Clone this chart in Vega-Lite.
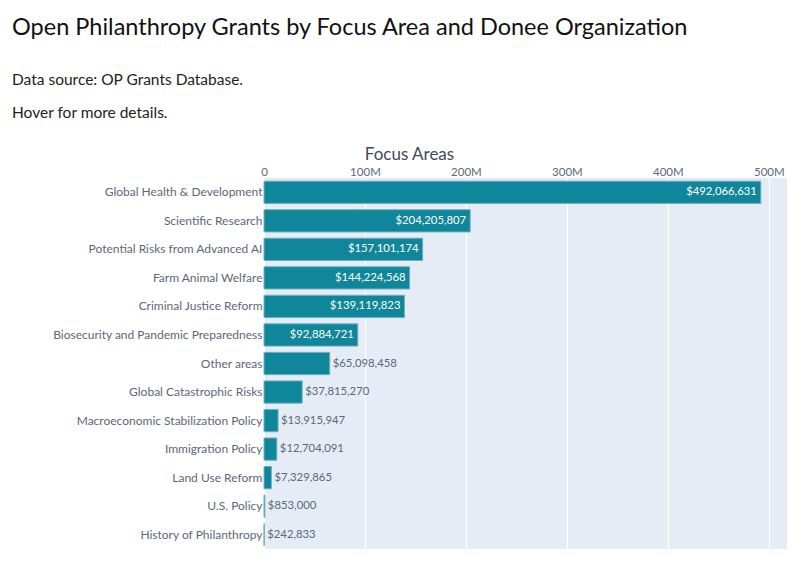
{
  "$schema": "https://vega.github.io/schema/vega-lite/v6.json",
  "autosize": {"type": "none"},
  "padding": {"left": 264, "top": 178, "right": 22, "bottom": 12},
  "width": 523,
  "height": 371,
  "background": "white",
  "title": {
    "text": "Open Philanthropy Grants by Focus Area and Donee Organization",
    "subtitle": ["Data source: OP Grants Database.", "Hover for more details."],
    "anchor": "start",
    "frame": "group",
    "dx": -252,
    "offset": 24,
    "font": "Lato",
    "fontSize": 23.5,
    "fontWeight": "normal",
    "color": "#111111",
    "subtitleFont": "Lato",
    "subtitleFontSize": 15.5,
    "subtitleColor": "#222222",
    "subtitleLineHeight": 33,
    "subtitlePadding": 33
  },
  "config": {
    "view": {"fill": "#e5ecf6", "stroke": null},
    "font": "Lato"
  },
  "data": {
    "values": [
      {"area": "Global Health & Development", "amount": 492066631},
      {"area": "Scientific Research", "amount": 204205807},
      {"area": "Potential Risks from Advanced AI", "amount": 157101174},
      {"area": "Farm Animal Welfare", "amount": 144224568},
      {"area": "Criminal Justice Reform", "amount": 139119823},
      {"area": "Biosecurity and Pandemic Preparedness", "amount": 92884721},
      {"area": "Other areas", "amount": 65098458},
      {"area": "Global Catastrophic Risks", "amount": 37815270},
      {"area": "Macroeconomic Stabilization Policy", "amount": 13915947},
      {"area": "Immigration Policy", "amount": 12704091},
      {"area": "Land Use Reform", "amount": 7329865},
      {"area": "U.S. Policy", "amount": 853000},
      {"area": "History of Philanthropy", "amount": 242833}
    ]
  },
  "encoding": {
    "y": {
      "field": "area",
      "type": "nominal",
      "sort": ["Global Health & Development", "Scientific Research", "Potential Risks from Advanced AI", "Farm Animal Welfare", "Criminal Justice Reform", "Biosecurity and Pandemic Preparedness", "Other areas", "Global Catastrophic Risks", "Macroeconomic Stabilization Policy", "Immigration Policy", "Land Use Reform", "U.S. Policy", "History of Philanthropy"],
      "scale": {"paddingInner": 0.22, "paddingOuter": 0.11},
      "axis": {
        "title": null,
        "domain": false,
        "ticks": false,
        "labelPadding": 2,
        "labelFont": "Lato",
        "labelFontSize": 12,
        "labelColor": "#5b6878",
        "labelLimit": 300
      }
    },
    "x": {
      "field": "amount",
      "type": "quantitative",
      "scale": {"domain": [0, 518000000], "nice": false},
      "axis": {
        "orient": "top",
        "values": [0, 100000000, 200000000, 300000000, 400000000, 500000000],
        "labelExpr": "datum.value === 0 ? '0' : (datum.value / 1000000) + 'M'",
        "title": "Focus Areas",
        "titleFont": "Lato",
        "titleFontSize": 17,
        "titleFontWeight": "normal",
        "titleColor": "#3d4a5a",
        "titleAnchor": "start",
        "titleAlign": "center",
        "titleX": 145,
        "titlePadding": 3,
        "domain": false,
        "ticks": false,
        "labelPadding": 1,
        "labelFont": "Lato",
        "labelFontSize": 11.5,
        "labelColor": "#5b6878",
        "labelFlush": false,
        "grid": true,
        "gridColor": "white",
        "gridWidth": 1.2
      }
    }
  },
  "layer": [
    {
      "mark": {"type": "bar", "color": "#10869a", "stroke": "#6fb0c0", "strokeWidth": 1},
      "encoding": {}
    },
    {
      "transform": [{"filter": "datum.amount >= 80000000"}],
      "mark": {"type": "text", "align": "right", "baseline": "middle", "dx": -4, "color": "white", "fontSize": 11.3},
      "encoding": {"text": {"field": "amount", "type": "quantitative", "format": "$,.0f"}}
    },
    {
      "transform": [{"filter": "datum.amount < 80000000"}],
      "mark": {"type": "text", "align": "left", "baseline": "middle", "dx": 3, "color": "#5b6878", "fontSize": 11.3},
      "encoding": {"text": {"field": "amount", "type": "quantitative", "format": "$,.0f"}}
    }
  ]
}
